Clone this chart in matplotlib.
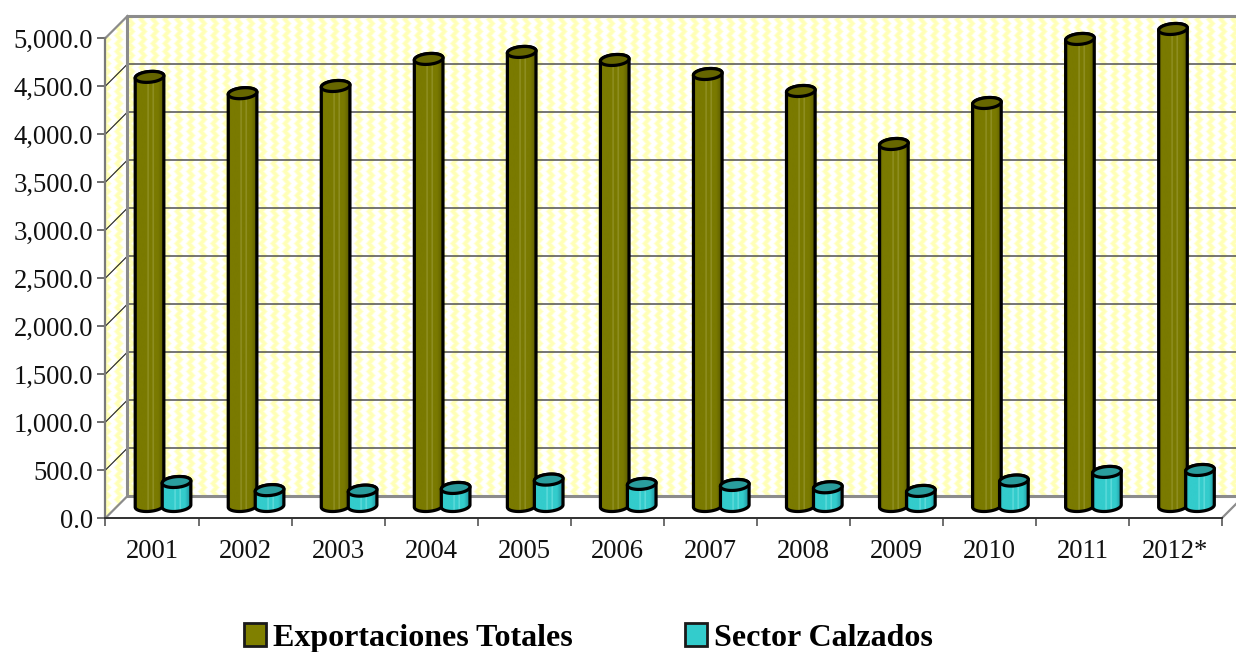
import numpy as np
import matplotlib
matplotlib.use("Agg")
import matplotlib.pyplot as plt
from matplotlib.patches import Patch, Polygon

plt.rcParams['font.family'] = ['Liberation Serif', 'DejaVu Serif']

years = ['2001', '2002', '2003', '2004', '2005', '2006', '2007', '2008', '2009', '2010', '2011', '2012*']
exportaciones = [4470, 4300, 4375, 4657, 4730, 4646, 4500, 4323, 3771, 4198, 4865, 4969]
calzados = [250, 165, 160, 188, 275, 230, 219, 195, 157, 265, 355, 375]
yticks = [0, 500, 1000, 1500, 2000, 2500, 3000, 3500, 4000, 4500, 5000]

W, H = 1236, 652
# pixels of the front plane
X0, X1, Y0, Y1 = 105.5, 1222.0, 518.0, 38.0
PX = len(years) / (X1 - X0)      # categories per pixel
PY = 5000 / (Y0 - Y1)            # value units per pixel
DEPTH = 22                       # oblique depth, pixels

fig = plt.figure(figsize=(W / 100, H / 100), dpi=100)
ax = fig.add_axes([0, 0, 1, 1])
ax.set_xlim(-X0 * PX, (W - X0) * PX)
ax.set_ylim(-(H - Y0) * PY, Y0 * PY)
ax.set_autoscale_on(False)
ax.patch.set_visible(False)


def back(x, y, d=1.0):
    # move a front plane point back into the depth
    return x + d * DEPTH * PX, y + d * DEPTH * PY


n = len(years)
# wall texture, wavy yellow stripes
yy, xx = np.mgrid[0:H, 0:W]
saw = np.abs(((yy / 8.0) % 1.0) - 0.5) * 2
v = (np.cos(2 * np.pi * (xx + 3.5 * saw) / 12.0) + 1) / 2
v = np.clip((v - 0.25) * 1.6, 0, 1)[..., None]
tex = (1 - v) * np.array([1, 1, 1.0]) + v * np.array([1, 1, 0.72])
extent = ax.get_xlim() + ax.get_ylim()[::-1]

walls = [
    [back(0, 0), back(n, 0), back(n, 5000), back(0, 5000)],
    [(0, 0), back(0, 0), back(0, 5000), (0, 5000)],
]
for pts in walls:
    clip = Polygon(pts, transform=ax.transData, fc='none', ec='none')
    ax.add_patch(clip)
    im = ax.imshow(tex, extent=extent, origin='upper', aspect='auto', zorder=1, interpolation='nearest')
    im.set_clip_path(clip)

# grid on walls
for t in yticks[1:-1]:
    bx, by = back(0, t)
    ex, ey = back(n, t)
    ax.plot([bx, ex], [by, ey], color='#505050', lw=1.1, zorder=1.5)
    ax.plot([0, bx], [t, by], color='#202020', lw=0.8, zorder=1.5)

# wall frame
GREY = '#8c8c8c'
frame = [back(n, 5000), back(0, 5000), back(0, 0), back(n, 0)]
ax.plot(*zip(*frame), color=GREY, lw=2.2, zorder=1.6)
ax.plot(*zip((0, 5000), back(0, 5000)), color=GREY, lw=1.6, zorder=1.6)
ax.plot(*zip((0, 0), back(0, 0)), color=GREY, lw=1.6, zorder=1.6)
ax.plot(*zip((n, 0), back(n, 0)), color=GREY, lw=1.6, zorder=1.6)

# axes lines
for side in ['top', 'right']:
    ax.spines[side].set_visible(False)
ax.spines['left'].set_position(('data', 0))
ax.spines['left'].set_bounds(0, 5000)
ax.spines['left'].set_color('#7a7a7a')
ax.spines['left'].set_linewidth(1.6)
ax.spines['bottom'].set_position(('data', 0))
ax.spines['bottom'].set_bounds(0, n)
ax.spines['bottom'].set_color('#303030')
ax.spines['bottom'].set_linewidth(1.4)

ax.set_yticks(yticks)
ax.set_yticklabels([f'{t:,.1f}' for t in yticks], fontsize=19.2, color='#111111')
ax.tick_params(axis='y', length=6, width=1.4, color='#6e6e6e', pad=3)
ax.set_xticks(np.arange(n + 1))
ax.set_xticklabels([])
ax.tick_params(axis='x', which='major', length=5.5, width=1.4, color='#6e6e6e')
ax.set_xticks(np.arange(n) + 0.5, minor=True)
ax.set_xticklabels(years, minor=True, fontsize=19.2, color='#111111')
ax.tick_params(axis='x', which='minor', length=0, pad=15)

# cylinders
R, K, TILT = 14.0, 5.5, 3.0
T0 = np.arctan2(TILT, R)
HALF = np.hypot(R, TILT)
LW = 2.3


def ring(cx, y, t):
    return cx + (R * np.cos(t) + TILT * np.sin(t)) * PX, y + K * np.sin(t) * PY


def shade(base, dark, light):
    pos = [0, .07, .2, .42, .45, .48, .6, .63, .66, .8, 1]
    mix = [dark, base, base, base, light, base, base, light, base, base, dark]
    mix = np.array([matplotlib.colors.to_rgb(c) for c in mix])
    u = np.linspace(0, 1, 60)
    return np.stack([np.interp(u, pos, mix[:, i]) for i in range(3)], axis=1)[None, ...]


def cylinders(values, shift, base, dark, light, lid, zorder):
    strip = shade(base, dark, light)
    for i, val in enumerate(values):
        cx = i + 0.5 + (DEPTH / 2 + shift) * PX
        y0 = (DEPTH / 2 + 1) * PY
        top = y0 + val
        ax.bar(cx, val, 2 * (R - 1) * PX, bottom=y0, color=base, linewidth=0, zorder=zorder)
        t_top = np.linspace(T0, T0 + np.pi, 40)
        t_bot = np.linspace(T0 + np.pi, T0 + 2 * np.pi, 40)
        xs = np.r_[ring(cx, top, t_top)[0], ring(cx, y0, t_bot)[0]]
        ys = np.r_[ring(cx, top, t_top)[1], ring(cx, y0, t_bot)[1]]
        body = Polygon(np.c_[xs, ys], closed=True, fc='none', ec='black', lw=LW, zorder=zorder + 0.2)
        ax.add_patch(body)
        im = ax.imshow(strip, extent=(cx - HALF * PX, cx + HALF * PX, y0 - K * PY, top + K * PY),
                       aspect='auto', zorder=zorder + 0.1, interpolation='bilinear')
        im.set_clip_path(body)
        t = np.linspace(0, 2 * np.pi, 80)
        ax.fill(*ring(cx, top, t), fc=lid, ec='black', lw=LW, zorder=zorder + 0.3)


cylinders(exportaciones, -13.5, '#7a7a00', '#5c5c00', '#a0a040', '#666600', 3)
cylinders(calzados, 13.5, '#33cccc', '#1f8f9c', '#7fe6e6', '#2a9d9d', 4)

handles = [Patch(fc='#808000', ec='#1a1a1a', lw=2), Patch(fc='#33cccc', ec='#1a1a1a', lw=2)]
fs = 23
leg = ax.legend(handles, ['Exportaciones Totales', 'Sector Calzados'], ncol=2, frameon=False,
                loc='center left', bbox_to_anchor=(244 / W, 1 - 638 / H), bbox_transform=fig.transFigure,
                prop={'weight': 'bold', 'size': fs}, handlelength=0.69, handleheight=0.69,
                handletextpad=0.22, columnspacing=3.5, borderpad=0, borderaxespad=0)

fig.savefig('out.png', dpi=100)
